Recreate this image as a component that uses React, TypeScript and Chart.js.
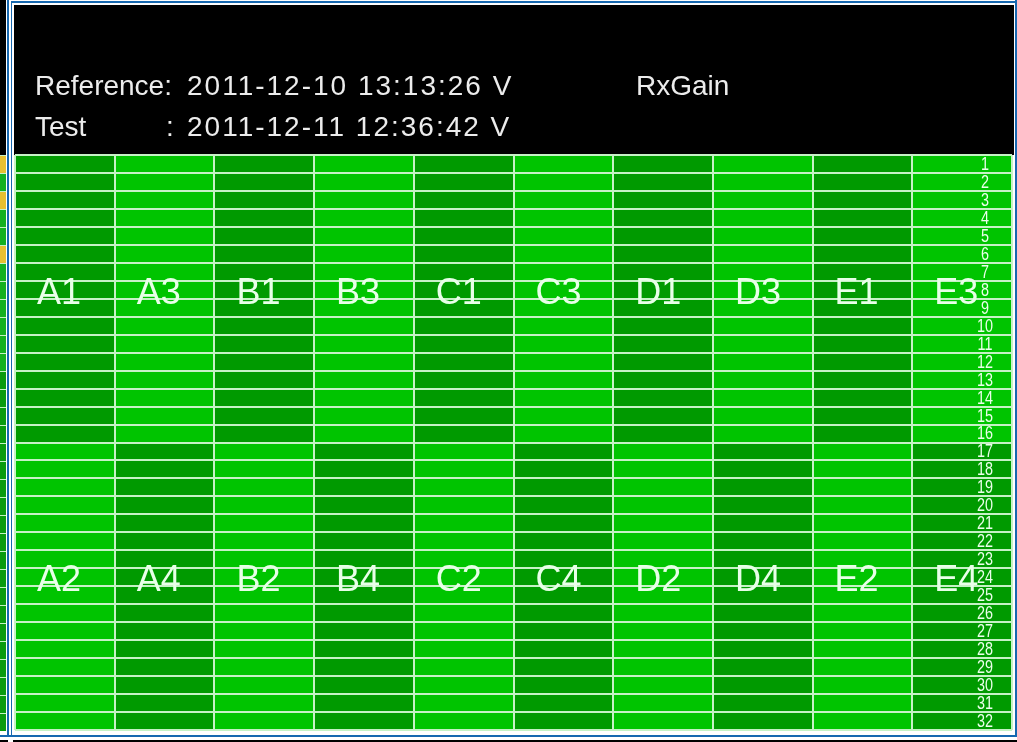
import React, { useEffect, useRef } from 'react';
import { Chart, registerables } from 'chart.js';

Chart.register(...registerables);

// ---- data ----
const upperCells = ['A1', 'A3', 'B1', 'B3', 'C1', 'C3', 'D1', 'D3', 'E1', 'E3'];
const lowerCells = ['A2', 'A4', 'B2', 'B4', 'C2', 'C4', 'D2', 'D4', 'E2', 'E4'];
const rowNumbers = [
  '1', '2', '3', '4', '5', '6', '7', '8', '9', '10', '11', '12', '13', '14', '15', '16',
  '17', '18', '19', '20', '21', '22', '23', '24', '25', '26', '27', '28', '29', '30', '31', '32',
];
const upperRowCount = [16, 16, 16, 16, 16, 16, 16, 16, 16, 16];
const lowerRowCount = [16, 16, 16, 16, 16, 16, 16, 16, 16, 16];
const upperTone = ['dark', 'light', 'dark', 'light', 'dark', 'light', 'dark', 'light', 'dark', 'light'];
const lowerTone = ['light', 'dark', 'light', 'dark', 'light', 'dark', 'light', 'dark', 'light', 'dark'];
const referenceLabel = 'Reference:';
const referenceStamp = '2011-12-10 13:13:26 V';
const testLabel = 'Test';
const testStamp = '2011-12-11 12:36:42 V';
const measureName = 'RxGain';

const TONES: Record<string, string> = { dark: '#009a00', light: '#00c400' };
const GRID = '#c6f2c6';

const framePlugin = {
  id: 'frame',
  beforeDraw(chart: any) {
    const ctx = chart.ctx;
    const W = chart.width;
    ctx.save();
    ctx.fillStyle = '#ffffff';
    ctx.fillRect(0, 0, W, chart.height);
    // left strip (neighbouring window)
    ctx.fillStyle = '#000000';
    ctx.fillRect(0, 0, 6, 155);
    for (let r = 0; r < 32; r++) {
      const y = 155 + r * 18;
      ctx.fillStyle = r === 0 || r === 2 || r === 5 ? '#e8c030' : r < 12 ? '#14b020' : '#0a9a10';
      ctx.fillRect(0, y, 6, 18);
      ctx.fillStyle = '#c6f2c6';
      ctx.fillRect(0, y, 6, 1);
    }
    // blue frame
    ctx.fillStyle = '#1668b0';
    ctx.fillRect(7, 0, 2, 737);
    ctx.fillRect(11, 1, 1, 736);
    ctx.fillRect(11, 1, W - 11, 2);
    ctx.fillRect(1015, 0, 2, 737);
    ctx.fillRect(0, 735, W, 2);
    ctx.fillStyle = '#000000';
    ctx.fillRect(0, 740, 8, 2);
    ctx.fillRect(13, 740, W - 13, 2);
    // black header
    ctx.fillRect(14, 5, 1000, 150);
    ctx.restore();
  },
  afterDraw(chart: any) {
    const ctx = chart.ctx;
    ctx.save();
    ctx.fillStyle = '#ececec';
    ctx.textBaseline = 'alphabetic';
    ctx.textAlign = 'left';
    ctx.font = '28px "Liberation Sans", sans-serif';
    ctx.fillText(referenceLabel, 35, 95);
    ctx.fillText(testLabel, 35, 136);
    ctx.fillText(':', 166, 136);
    ctx.fillText(measureName, 636, 95);
    try { (ctx as any).letterSpacing = '2px'; } catch (e) {}
    ctx.fillText(referenceStamp, 187, 95);
    ctx.fillText(testStamp, 187, 136);
    try { (ctx as any).letterSpacing = '0px'; } catch (e) {}

    const xs = chart.scales.x;
    const ys = chart.scales.y;
    const rs = chart.scales.rows;
    const colW = (xs.right - xs.left) / upperCells.length;

    // row numbers, positioned with the rows category scale (tall, narrow glyphs)
    ctx.fillStyle = '#eaffea';
    ctx.font = '18px "Liberation Sans", sans-serif';
    ctx.textAlign = 'center';
    ctx.textBaseline = 'middle';
    const cx = chart.chartArea.right - 27;
    const sx = 0.8;
    for (let i = 0; i < rowNumbers.length; i++) {
      ctx.save();
      ctx.translate(cx, rs.getPixelForValue(i) + 1);
      ctx.scale(sx, 1);
      ctx.fillText(rowNumbers[i], 0, 0);
      ctx.restore();
    }

    // cell labels
    ctx.textAlign = 'left';
    ctx.textBaseline = 'alphabetic';
    ctx.fillStyle = '#e8ffe8';
    ctx.font = '36px "Liberation Sans", sans-serif';
    for (let i = 0; i < upperCells.length; i++) {
      const left = xs.getPixelForValue(i) - colW / 2 + 22;
      ctx.fillText(upperCells[i], left, ys.getPixelForValue(7.5) + 14);
      ctx.fillText(lowerCells[i], left, ys.getPixelForValue(23.5) + 14);
    }
    ctx.restore();
  },
};

export default function App() {
  const ref = useRef<HTMLCanvasElement | null>(null);
  useEffect(() => {
    if (!ref.current) return;
    const chart = new Chart(ref.current, {
      type: 'bar',
      data: {
        labels: upperCells,
        datasets: [
          {
            label: 'upper',
            data: upperRowCount,
            backgroundColor: upperTone.map((t) => TONES[t]),
            borderWidth: 0,
            barPercentage: 1,
            categoryPercentage: 1,
            yAxisID: 'y',
          },
          {
            label: 'lower',
            data: lowerRowCount,
            backgroundColor: lowerTone.map((t) => TONES[t]),
            borderWidth: 0,
            barPercentage: 1,
            categoryPercentage: 1,
            yAxisID: 'y',
          },
        ],
      },
      options: {
        responsive: false,
        animation: false,
        devicePixelRatio: 1,
        layout: { padding: { left: 15, top: 155, right: 5, bottom: 12 } },
        plugins: { legend: { display: false }, tooltip: { enabled: false }, title: { display: false } },
        scales: {
          x: {
            type: 'category',
            stacked: true,
            offset: true,
            grid: { color: GRID, lineWidth: 2, z: 1, drawTicks: false, offset: true },
            border: { display: false },
            ticks: { display: false },
          },
          y: {
            type: 'linear',
            stacked: true,
            min: 0,
            max: 32,
            reverse: true,
            display: false,
          },
          rows: {
            type: 'category',
            labels: rowNumbers,
            position: 'right',
            offset: true,
            grid: { color: GRID, lineWidth: 2, z: 1, drawTicks: false, offset: true },
            border: { display: false },
            ticks: { display: false },
            afterFit: (scale: any) => {
              scale.width = 0;
              scale.paddingTop = 0;
              scale.paddingBottom = 0;
            },
          },
        },
      } as any,
      plugins: [framePlugin],
    });
    return () => chart.destroy();
  }, []);
  return (
    <div style={{ position: 'fixed', left: 0, top: 0, width: 1017, height: 742, background: '#fff' }}>
      <canvas ref={ref} width={1017} height={742} style={{ display: 'block' }} />
    </div>
  );
}
